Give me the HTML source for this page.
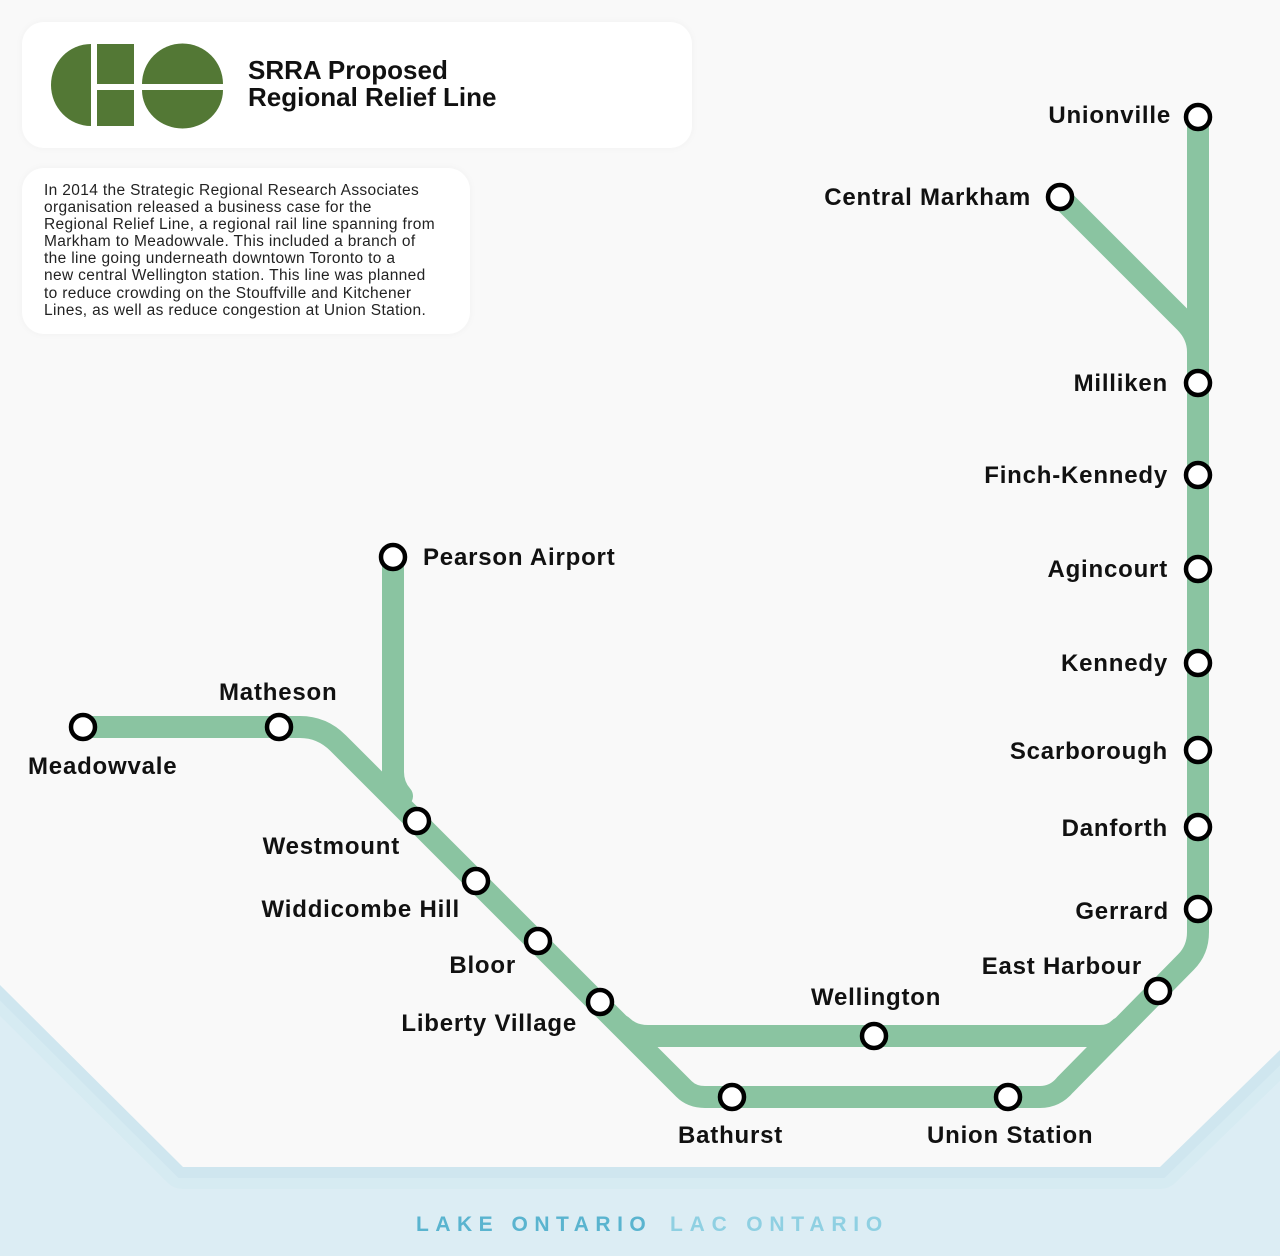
<!DOCTYPE html>
<html><head><meta charset="utf-8"><style>
html,body{margin:0;padding:0;background:#f9f9f9;}
body{width:1280px;height:1256px;position:relative;overflow:hidden;font-family:"Liberation Sans",sans-serif;}
svg{position:absolute;left:0;top:0;}
.card{position:absolute;background:#fff;border-radius:22px;box-shadow:0 0 8px rgba(0,0,0,0.04);}
.t{font-family:"Liberation Sans",sans-serif;font-weight:bold;font-size:24px;letter-spacing:0.8px;fill:#111;}
</style></head><body>
<svg width="1280" height="1256" viewBox="0 0 1280 1256">
<rect x="0" y="0" width="1280" height="1256" fill="#dcedf4"/>
<polygon points="0,0 1280,0 1280,1050 1160,1167 183,1167 0,985" fill="#d6ebf2" stroke="#d6ebf2" stroke-width="44" stroke-linejoin="round"/>
<polygon points="0,0 1280,0 1280,1050 1160,1167 183,1167 0,985" fill="#cfe6ef" stroke="#cfe6ef" stroke-width="22"/>
<polygon points="0,0 1280,0 1280,1050 1160,1167 183,1167 0,985" fill="#f9f9f9"/>
<g fill="none" stroke="#8ac4a1" stroke-width="22" stroke-linejoin="round" stroke-linecap="round">
<path d="M83,727 H300 Q322,727 338,743 L684,1089 Q692,1097 705,1097 H1040 Q1055,1097 1065,1085 L1186,962 Q1198,950 1198,932 V117"/>
<path d="M622,1026 Q632,1036 648,1036 H1100 Q1112,1036 1120,1028"/>
<path d="M1060,197 L1185,322 Q1198,335 1198,352"/>
<path d="M393,557 V772 Q393,786 402,796"/>
</g>
<g fill="#fff" stroke="#000" stroke-width="4.5">
<circle cx="1198" cy="117" r="12"/><circle cx="1060" cy="197" r="12"/>
<circle cx="1198" cy="383" r="12"/><circle cx="1198" cy="475" r="12"/>
<circle cx="1198" cy="569" r="12"/><circle cx="1198" cy="663" r="12"/>
<circle cx="1198" cy="750" r="12"/><circle cx="1198" cy="827" r="12"/>
<circle cx="1198" cy="909" r="12"/><circle cx="1158" cy="991" r="12"/>
<circle cx="874" cy="1036" r="12"/><circle cx="1008" cy="1097" r="12"/>
<circle cx="732" cy="1097" r="12"/><circle cx="600" cy="1002" r="12"/>
<circle cx="538" cy="941" r="12"/><circle cx="476" cy="881" r="12"/>
<circle cx="417" cy="821" r="12"/><circle cx="279" cy="727" r="12"/>
<circle cx="83" cy="727" r="12"/><circle cx="393" cy="557" r="12"/>
</g>
<g class="t" text-anchor="end">
<text x="1171" y="123">Unionville</text>
<text x="1031" y="205">Central Markham</text>
<text x="1168" y="391">Milliken</text>
<text x="1168" y="483">Finch-Kennedy</text>
<text x="1168" y="577">Agincourt</text>
<text x="1168" y="671">Kennedy</text>
<text x="1168" y="759">Scarborough</text>
<text x="1168" y="836">Danforth</text>
<text x="1169" y="919">Gerrard</text>
<text x="1142" y="974">East Harbour</text>
<text x="400" y="854">Westmount</text>
<text x="460" y="917">Widdicombe Hill</text>
<text x="516" y="973">Bloor</text>
<text x="577" y="1031">Liberty Village</text>
</g>
<g class="t">
<text x="423" y="565">Pearson Airport</text>
<text x="219" y="700">Matheson</text>
<text x="28" y="774">Meadowvale</text>
<text x="811" y="1005">Wellington</text>
<text x="678" y="1143">Bathurst</text>
<text x="927" y="1143">Union Station</text>
</g>
<text x="416" y="1231" font-family="Liberation Sans" font-weight="bold" font-size="21" letter-spacing="6.5" fill="#5ab4cf">LAKE ONTARIO</text>
<text x="670" y="1231" font-family="Liberation Sans" font-weight="bold" font-size="21" letter-spacing="6.8" fill="#8fd0e2">LAC ONTARIO</text>
</svg>
<div class="card" style="left:22px;top:22px;width:670px;height:126px;"></div>
<div class="card" style="left:22px;top:168px;width:448px;height:166px;"></div>
<svg width="1280" height="200" viewBox="0 0 1280 200">
<path d="M91,44 A40,41 0 0 0 91,126 Z" fill="#537835"/>
<rect x="97" y="44" width="37" height="40" fill="#537835"/>
<rect x="97" y="90" width="37" height="36" fill="#537835"/>
<path d="M142,84 A40,40 0 0 1 223,84 Z" fill="#537835"/>
<path d="M142,90 A40,38 0 0 0 223,90 Z" fill="#537835"/>
<text x="248" y="79" font-family="Liberation Sans" font-weight="bold" font-size="26" fill="#111">SRRA Proposed</text>
<text x="248" y="106" font-family="Liberation Sans" font-weight="bold" font-size="26" fill="#111">Regional Relief Line</text>
</svg>
<div style="position:absolute;left:44px;top:182px;width:430px;font-size:15.5px;line-height:17.1px;color:#222;letter-spacing:0.35px;white-space:nowrap;">In 2014 the Strategic Regional Research Associates<br>organisation released a business case for the<br>Regional Relief Line, a regional rail line spanning from<br>Markham to Meadowvale. This included a branch of<br>the line going underneath downtown Toronto to a<br>new central Wellington station. This line was planned<br>to reduce crowding on the Stouffville and Kitchener<br>Lines, as well as reduce congestion at Union Station.</div>
</body></html>
